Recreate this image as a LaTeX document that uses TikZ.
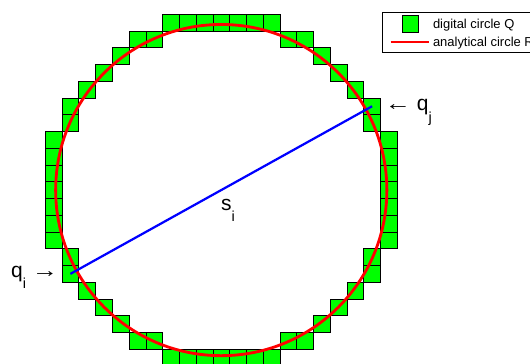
\documentclass[tikz,border=0pt]{standalone}
\usepackage{fontspec}
\setmainfont{Liberation Sans}
\usepackage{tikz}
\usetikzlibrary{positioning,calc}
\definecolor{pixc}{HTML}{00FF00}
\definecolor{anac}{HTML}{FF0000}
\definecolor{chordc}{HTML}{0000FF}
\newcommand\lowsub[1]{\raisebox{-9.9pt}{\fontsize{12.3}{12.3}\selectfont#1}}
\newcommand\wideto{\scalebox{1.25}[1]{→}}
\newcommand\widefrom{\scalebox{1.25}[1]{←}}
\tikzset{
  pix/.style={draw=black,fill=pixc,line width=0.5pt,minimum size=5mm,inner sep=0pt},
  anacirc/.style={draw=anac,line width=2.4pt},
  chord/.style={draw=chordc,line width=1.9pt},
  lbl/.style={font=\fontsize{17.8}{20}\selectfont,inner sep=0pt},
  legtxt/.style={font=\fontsize{11}{13}\selectfont,anchor=base west,inner sep=0pt},
}
\begin{document}
\begin{tikzpicture}[x=5mm,y=5mm,
  legbox/.style={draw=black,line width=0.6pt,fill=white}]
  \useasboundingbox (-13.20,-10.32) rectangle (18.42,11.34);
  \coordinate (o) at (0,0);
  % digital circle: cells whose centre lies within half a cell of radius 10
  \foreach \i in {-10,...,10} {
    \foreach \j in {-10,...,10} {
      \pgfmathtruncatemacro\isin{abs(sqrt(\i*\i+\j*\j)-10)<0.5}
      \ifnum\isin=1 \node[pix] (p\i x\j) at (\i,\j) {}; \fi
    }
  }
  \draw[anacirc] (o) circle (9.88);
  \draw[chord] (p-9x-5.center) -- (p9x5.center);
  \node[lbl,anchor=base east] (qi) at (-9.72,-5.19) {q\lowsub{i} \wideto};
  \node[lbl,anchor=base west] (qj) at (9.75,4.72) {\widefrom{} q\lowsub{j}};
  \node[lbl,anchor=base west] (si) at (-0.02,-1.19) {s\lowsub{i}};
  % legend
  \draw[legbox] (9.63,8.20) rectangle (19,10.58);
  \node[pix] (legsq) at (11.28,9.93) {};
  \coordinate (legl) at (10.11,8.83); \coordinate (legr) at (12.41,8.83);
  \draw[anacirc] (legl) -- (legr);
  \node[legtxt] (legq) at (12.62,9.65) {digital circle Q};
  \node[legtxt] (legrt) at (12.62,8.55) {analytical circle R};
\end{tikzpicture}
\end{document}
